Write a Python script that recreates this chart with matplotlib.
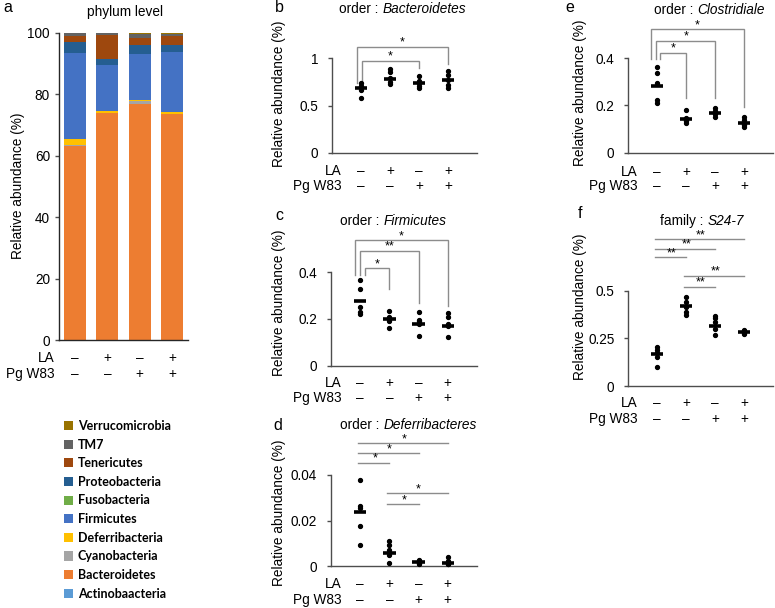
import numpy as np
import matplotlib
matplotlib.use('Agg')
import matplotlib.pyplot as plt
import matplotlib.transforms as mtransforms
from matplotlib.patches import Patch
from matplotlib.offsetbox import TextArea, HPacker, AnnotationBbox

plt.rcParams['font.family'] = ['Liberation Sans', 'DejaVu Sans']

# ---------------- data ----------------
la_signs = ['\u2013', '+', '\u2013', '+']
pg_signs = ['\u2013', '\u2013', '+', '+']

phyla = ['Actinobaacteria', 'Bacteroidetes', 'Cyanobacteria', 'Deferribacteria',
         'Firmicutes', 'Fusobacteria', 'Proteobacteria', 'Tenericutes', 'TM7',
         'Verrucomicrobia']
phylum_colors = ['#5B9BD5', '#ED7D31', '#A5A5A5', '#FFC000', '#4472C4',
                 '#70AD47', '#255E91', '#9E480E', '#636363', '#997300']
actino = [0.1, 0.1, 0.1, 0.1]
bacteroidetes = [63.2, 73.7, 76.9, 73.5]
cyano = [0.1, 0.1, 0.8, 0.1]
deferri = [2.1, 0.6, 0.4, 0.5]
firmicutes = [28.0, 15.0, 14.8, 19.6]
fuso = [0.1, 0.1, 0.1, 0.1]
proteo = [3.5, 2.0, 3.1, 2.3]
teneric = [1.9, 7.6, 2.2, 2.8]
tm7 = [0.9, 0.7, 1.3, 0.6]
verruco = [0.1, 0.1, 0.3, 0.4]
phylum_values = [actino, bacteroidetes, cyano, deferri, firmicutes, fuso,
                 proteo, teneric, tm7, verruco]

# panel b : Bacteroidetes
b_points = [[0.58, 0.66, 0.69, 0.71, 0.74],
            [0.73, 0.75, 0.79, 0.85, 0.88],
            [0.68, 0.71, 0.74, 0.76, 0.81],
            [0.68, 0.72, 0.77, 0.82, 0.86]]
b_means = [0.68, 0.78, 0.74, 0.77]
b_ticks = [0, 0.5, 1]
b_ticklabels = ['0', '0.5', '1']
b_sig = [(1, 3, 0.97, '*'), (1, 4, 1.12, '*')]

# panel c : Firmicutes
c_points = [[0.221, 0.231, 0.25, 0.328, 0.367],
            [0.16, 0.19, 0.20, 0.21, 0.235],
            [0.128, 0.18, 0.19, 0.196, 0.229],
            [0.122, 0.17, 0.178, 0.207, 0.224]]
c_means = [0.278, 0.20, 0.18, 0.172]
c_ticks = [0, 0.2, 0.4]
c_ticklabels = ['0', '0.2', '0.4']
c_sig = [(1, 2, 0.417, '*'), (1, 3, 0.493, '**'), (1, 4, 0.538, '*')]

# panel d : Deferribacteres
d_points = [[0.0092, 0.0177, 0.0254, 0.0264, 0.038],
            [0.0013, 0.005, 0.007, 0.0092, 0.011],
            [0.0008, 0.0012, 0.0015, 0.002, 0.0025],
            [0.0008, 0.001, 0.0015, 0.002, 0.004]]
d_means = [0.0236, 0.0058, 0.0016, 0.0015]
d_ticks = [0, 0.02, 0.04]
d_ticklabels = ['0', '0.02', '0.04']
d_sig = [(1, 4, 0.0539, '*'), (1, 3, 0.0495, '*'), (1, 2, 0.0454, '*'),
         (2, 4, 0.032, '*'), (2, 3, 0.0273, '*')]

# panel e : Clostridiale
e_points = [[0.209, 0.223, 0.297, 0.339, 0.362],
            [0.127, 0.133, 0.137, 0.148, 0.181],
            [0.153, 0.163, 0.167, 0.176, 0.188],
            [0.110, 0.118, 0.123, 0.139, 0.153]]
e_means = [0.284, 0.143, 0.168, 0.124]
e_ticks = [0, 0.2, 0.4]
e_ticklabels = ['0', '0.2', '0.4']
e_sig = [(1, 2, 0.424, '*'), (1, 3, 0.475, '*'), (1, 4, 0.523, '*')]

# panel f : S24-7
f_points = [[0.101, 0.15, 0.175, 0.189, 0.206],
            [0.373, 0.39, 0.415, 0.44, 0.469],
            [0.268, 0.30, 0.338, 0.355, 0.369],
            [0.273, 0.28, 0.285, 0.29, 0.296]]
f_means = [0.166, 0.42, 0.315, 0.285]
f_ticks = [0, 0.25, 0.5]
f_ticklabels = ['0', '0.25', '0.5']
f_sig = [(1, 4, 0.772, '**'), (1, 3, 0.721, '**'), (1, 2, 0.676, '**'),
         (2, 4, 0.578, '**'), (2, 3, 0.522, '**')]

# ---------------- layout ----------------
W, H = 775, 608
fig = plt.figure(figsize=(W / 100, H / 100), dpi=100)
FS = 9.8
SPINE = '#4d4d4d'
GRAY = '#8c8c8c'


def add_ax(l, r, t, b):
    return fig.add_axes([l / W, 1 - b / H, (r - l) / W, (b - t) / H])


def style(ax, pad):
    for s in ['top', 'right']:
        ax.spines[s].set_visible(False)
    for s in ['left', 'bottom']:
        ax.spines[s].set_color(SPINE)
        ax.spines[s].set_linewidth(1.0)
    ax.tick_params(axis='y', length=3, width=1.0, color=SPINE, pad=pad, labelsize=FS)
    ax.tick_params(axis='x', length=0, labelbottom=False)
    ax.patch.set_alpha(0)


def ylab(ax, cx, cy, l, r, t, b):
    ax.set_ylabel('Relative abundance (%)', fontsize=FS)
    ax.yaxis.label.set_va('center')
    ax.yaxis.set_label_coords((cx - l) / (r - l), (b - cy) / (b - t))


def rows(ax, xr, y_la, y_pg, xs):
    fig.text(xr / W, 1 - y_la / H, 'LA', ha='right', va='center', fontsize=FS)
    fig.text(xr / W, 1 - y_pg / H, 'Pg W83', ha='right', va='center', fontsize=FS)
    tr = mtransforms.blended_transform_factory(ax.transData, fig.transFigure)
    for x, s1, s2 in zip(xs, la_signs, pg_signs):
        ax.text(x, 1 - y_la / H, s1, transform=tr, ha='center', va='center', fontsize=FS)
        ax.text(x, 1 - y_pg / H, s2, transform=tr, ha='center', va='center', fontsize=FS)


def title(plain, ital, cx, cy):
    t1 = TextArea(plain, textprops=dict(fontsize=FS))
    t2 = TextArea(ital, textprops=dict(fontsize=FS, style='italic'))
    box = HPacker(children=[t1, t2], align='baseline', pad=0, sep=3)
    ab = AnnotationBbox(box, (cx, H - cy), xycoords='figure pixels',
                        frameon=False, box_alignment=(0.5, 0.5))
    fig.add_artist(ab)


def letter(s, x, y):
    fig.text(x / W, 1 - y / H, s, fontsize=11.5, ha='center', va='center')


def dots(ax, points, means):
    for i, (pts, m) in enumerate(zip(points, means)):
        x = i + 1
        ax.plot([x] * len(pts), pts, 'o', ms=2.8, color='black', zorder=3, clip_on=False)
        ax.hlines(m, x - 0.21, x + 0.21, color='black', lw=2.6, zorder=4)


def star(ax, x, y, label):
    ax.annotate(label, (x, y), xytext=(0, -1.5), textcoords='offset points',
                ha='center', va='bottom', fontsize=9, annotation_clip=False)


def brackets(ax, sig, left_bottom, right_bottoms, offsets):
    for (g1, g2, y, lab), rb, off in zip(sig, right_bottoms, offsets):
        xl = g1 + off
        ax.plot([xl, xl, g2, g2], [left_bottom, y, y, rb], color=GRAY, lw=1,
                clip_on=False, solid_joinstyle='miter')
        star(ax, (xl + g2) / 2, y, lab)


def lines(ax, sig):
    for g1, g2, y, lab in sig:
        ax.plot([g1 - 0.07, g2], [y, y], color=GRAY, lw=1, clip_on=False)
        star(ax, (g1 + g2) / 2, y, lab)


xs4 = [1, 2, 3, 4]

# ---- panel a ----
la_, ra_, ta_, ba_ = 59, 188, 33, 340
axa = add_ax(la_, ra_, ta_, ba_)
xa = np.arange(4)
bottom = np.zeros(4)
handles = []
for name, vals, col in zip(phyla, phylum_values, phylum_colors):
    axa.bar(xa, vals, bottom=bottom, width=0.68, color=col, linewidth=0)
    bottom += np.array(vals)
    handles.append(Patch(facecolor=col, edgecolor='none', label=name))
axa.set_xlim(-0.5, 3.5)
axa.set_ylim(0, 100)
axa.set_yticks([0, 20, 40, 60, 80, 100])
style(axa, 3.5)
axa.spines['left'].set_color('#262626')
axa.spines['bottom'].set_color('#262626')
ylab(axa, 18, 186, la_, ra_, ta_, ba_)
rows(axa, 55, 358, 374, xa)
fig.text(125 / W, 1 - 12 / H, 'phylum level', ha='center', va='center', fontsize=FS)
letter('a', 8, 8)

leg = fig.legend(handles=handles[::-1], loc='upper left',
                 bbox_to_anchor=(64 / W, 1 - 420 / H), frameon=False,
                 prop=dict(family='Lato', weight='bold', size=9),
                 handlelength=0.75, handleheight=0.75, handletextpad=0.35,
                 labelspacing=0.53, borderpad=0, borderaxespad=0)

# ---- panel b ----
L, R, T, B = 332, 477, 58, 153
axb = add_ax(L, R, T, B)
dots(axb, b_points, b_means)
axb.set_xlim(0, 5)
axb.set_ylim(0, 1)
axb.set_yticks(b_ticks)
axb.set_yticklabels(b_ticklabels)
style(axb, 7)
ylab(axb, 279, 94, L, R, T, B)
rows(axb, 342, 171, 186, xs4)
brackets(axb, b_sig, 0.74, [0.89, 0.94], [0.03, -0.15])
title('order :', 'Bacteroidetes', 403, 9)
letter('b', 279, 8)

# ---- panel c ----
L, R, T, B = 331, 477, 272.3, 365.7
axc = add_ax(L, R, T, B)
dots(axc, c_points, c_means)
axc.set_xlim(0, 5)
axc.set_ylim(0, 0.4)
axc.set_yticks(c_ticks)
axc.set_yticklabels(c_ticklabels)
style(axc, 7)
ylab(axc, 279, 302.5, L, R, T, B)
rows(axc, 342, 383, 398, xs4)
brackets(axc, c_sig, 0.39, [0.33, 0.268, 0.256], [0.15, -0.01, -0.18])
title('order :', 'Firmicutes', 393, 220.7)
letter('c', 279, 215)

# ---- panel d ----
L, R, T, B = 331, 477, 475, 566
axd = add_ax(L, R, T, B)
dots(axd, d_points, d_means)
axd.set_xlim(0, 5)
axd.set_ylim(0, 0.04)
axd.set_yticks(d_ticks)
axd.set_yticklabels(d_ticklabels)
style(axd, 7)
ylab(axd, 279, 512.7, L, R, T, B)
rows(axd, 342, 584, 600, xs4)
lines(axd, d_sig)
title('order :', 'Deferribacteres', 408, 425)
letter('d', 278, 425)

# ---- panel e ----
L, R, T, B = 628.3, 773, 58.3, 152.7
axe = add_ax(L, R, T, B)
dots(axe, e_points, e_means)
axe.set_xlim(0, 5)
axe.set_ylim(0, 0.4)
axe.set_yticks(e_ticks)
axe.set_yticklabels(e_ticklabels)
style(axe, 7)
ylab(axe, 580, 92.5, L, R, T, B)
rows(axe, 638, 171.7, 185.7, xs4)
brackets(axe, e_sig, 0.395, [0.23, 0.23, 0.195], [0.1, -0.03, -0.21])
title('order :', 'Clostridiale', 709.5, 10)
letter('e', 570, 8)

# ---- panel f ----
L, R, T, B = 628.3, 773, 290.7, 386
axf = add_ax(L, R, T, B)
dots(axf, f_points, f_means)
axf.set_xlim(0, 5)
axf.set_ylim(0, 0.5)
axf.set_yticks(f_ticks)
axf.set_yticklabels(f_ticklabels)
style(axf, 7)
ylab(axf, 580, 307, L, R, T, B)
rows(axf, 638, 403, 419, xs4)
lines(axf, f_sig)
title('family :', 'S24-7', 702, 220.7)
letter('f', 580, 213)

fig.savefig('out.png', dpi=100)
